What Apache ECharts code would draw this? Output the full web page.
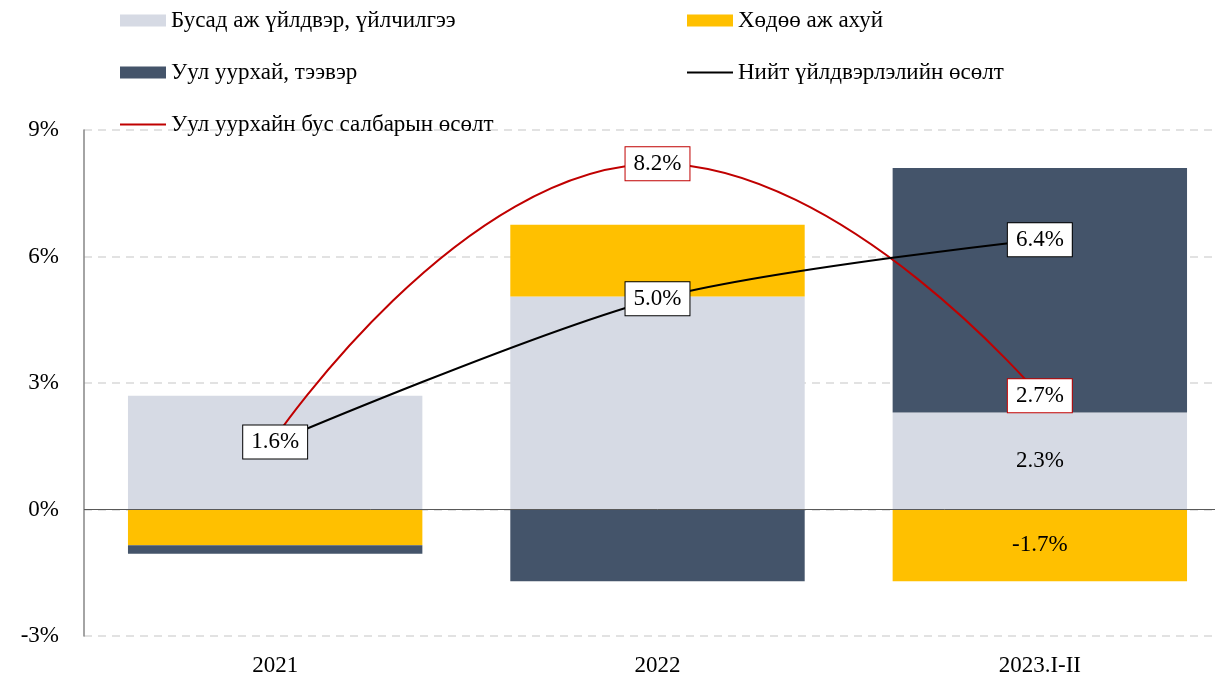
<!DOCTYPE html>
<html>
<head>
<meta charset="utf-8">
<script src="https://cdn.jsdelivr.net/npm/echarts@6/dist/echarts.min.js"></script>
<style>
  html, body { margin: 0; padding: 0; background: #fff; overflow: hidden; }
  #chart { width: 1231px; height: 679px; }
</style>
</head>
<body>
<div id="chart"></div>
<script>
// ангилал
var categories = ['2021', '2022', '2023.I-II'];
// баганууд (хувь нэмэр, %)
var busad = [2.7, 5.05, 2.3];
var khodoo = [-0.85, 1.7, -1.7];
var uulTeever = [-0.2, -1.7, 5.8];
// шугамууд (%)
var niit = [1.6, 5.0, 6.4];
var uulBus = [1.7, 8.2, 2.7];
// y тэнхлэгийн хуваарь
var yTicks = [-3, 0, 3, 6, 9];

var font = 'Liberation Serif';
var fs = 23;

function boxLabel(border) {
    return {
        show: true,
        position: 'inside',
        formatter: function (p) { return p.value.toFixed(1) + '%'; },
        fontFamily: font,
        fontSize: fs,
        color: '#000',
        backgroundColor: '#fff',
        borderColor: border,
        borderWidth: 1,
        padding: [6, 8, 4, 8]
    };
}

function legendAt(name, color, left, top, isLine) {
    return {
        data: [{ name: name, icon: 'rect', itemStyle: { color: color } }],
        left: left,
        top: top,
        padding: 0,
        itemWidth: 46,
        itemHeight: isLine ? 2 : 12,
        itemGap: 0,
        textStyle: { fontFamily: font, fontSize: fs, color: '#000' },
        selectedMode: false
    };
}

var option = {
    animation: false,
    backgroundColor: '#fff',
    legend: [
        legendAt('Бусад аж үйлдвэр, үйлчилгээ', '#d6dae4', 120, 9, false),
        legendAt('Хөдөө аж ахуй', '#ffc000', 687, 9, false),
        legendAt('Уул уурхай, тээвэр', '#44546a', 120, 61, false),
        legendAt('Нийт үйлдвэрлэлийн өсөлт', '#000', 687, 61, true),
        legendAt('Уул уурхайн бус салбарын өсөлт', '#c00000', 120, 113, true)
    ],
    grid: {
        left: 84,
        right: 0,
        top: 130,
        bottom: 43,
        containLabel: false
    },
    xAxis: {
        type: 'category',
        data: categories,
        axisTick: { show: false },
        axisLine: { show: false },
        axisLabel: { fontFamily: font, fontSize: fs, color: '#000', margin: 18 }
    },
    yAxis: {
        type: 'value',
        min: yTicks[0],
        max: yTicks[yTicks.length - 1],
        interval: 3,
        axisLine: { show: true, lineStyle: { color: '#868686', width: 1.5 } },
        axisTick: { show: false },
        axisLabel: {
            fontFamily: font, fontSize: fs, color: '#000', margin: 25,
            formatter: function (v) { return v + '%'; }
        },
        splitLine: { lineStyle: { color: '#d9d9d9', type: [8, 6], width: 1.5 } }
    },
    series: [
        {
            name: 'Бусад аж үйлдвэр, үйлчилгээ',
            type: 'bar',
            stack: 'a',
            barWidth: '77%',
            itemStyle: { color: '#d6dae4' },
            data: busad.map(function (v, i) {
                return { value: v, label: { show: i === 2 } };
            }),
            label: {
                position: 'inside',
                fontFamily: font, fontSize: fs, color: '#000',
                formatter: function (p) { return p.value.toFixed(1) + '%'; }
            },
            markLine: {
                silent: true,
                symbol: 'none',
                label: { show: false },
                lineStyle: { color: '#595959', type: 'solid', width: 1 },
                data: [{ yAxis: 0 }]
            }
        },
        {
            name: 'Хөдөө аж ахуй',
            type: 'bar',
            stack: 'a',
            itemStyle: { color: '#ffc000' },
            data: khodoo.map(function (v, i) {
                return { value: v, label: { show: i === 2 } };
            }),
            label: {
                position: 'inside',
                fontFamily: font, fontSize: fs, color: '#000',
                formatter: function (p) { return p.value.toFixed(1) + '%'; }
            }
        },
        {
            name: 'Уул уурхай, тээвэр',
            type: 'bar',
            stack: 'a',
            itemStyle: { color: '#44546a' },
            data: uulTeever
        },
        {
            name: 'Уул уурхайн бус салбарын өсөлт',
            type: 'line',
            smooth: 0.5,
            symbol: 'circle',
            symbolSize: 0.1,
            z: 3,
            lineStyle: { color: '#c00000', width: 2 },
            itemStyle: { color: '#c00000' },
            data: uulBus.map(function (v, i) {
                return { value: v, label: { show: i !== 0 } };
            }),
            label: boxLabel('#c00000')
        },
        {
            name: 'Нийт үйлдвэрлэлийн өсөлт',
            type: 'line',
            smooth: 0.3,
            symbol: 'circle',
            symbolSize: 0.1,
            z: 4,
            lineStyle: { color: '#000', width: 2 },
            itemStyle: { color: '#000' },
            data: niit,
            label: boxLabel('#000')
        }
    ]
};

var myChart = echarts.init(document.getElementById('chart'));
myChart.setOption(option);
window.onresize = function () {
    myChart.resize();
};
</script>
</body>
</html>
